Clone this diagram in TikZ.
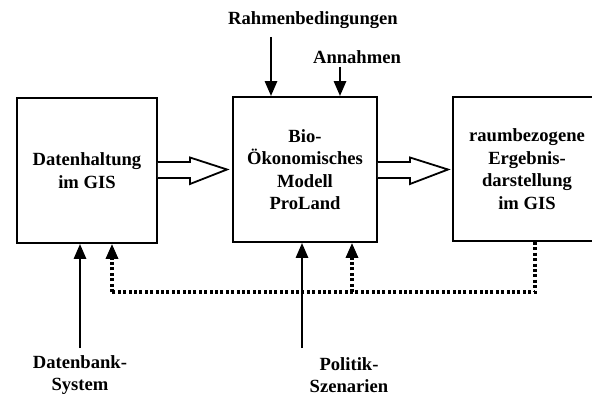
\documentclass[tikz,border=0pt]{standalone}
\usepackage{fontspec}
\setmainfont{Liberation Serif}
\usetikzlibrary{arrows.meta}
\begin{document}
\begin{tikzpicture}[x=1pt,y=-1pt,
  box/.style={draw,line width=1.8pt,inner sep=0pt,align=center,
    font=\bfseries\fontsize{18.6}{22.5}\selectfont},
  lbl/.style={inner sep=0pt,align=center,font=\bfseries\fontsize{18.6}{22.5}\selectfont},
  solidarrow/.style={line width=2.8pt,-{Triangle[length=15pt,width=12pt]}},
  dotline/.style={line width=3.2pt,dash pattern=on 3pt off 2.4pt},
  dotarrow/.style={dotline,-{Triangle[length=15pt,width=12pt]}},
  hollow/.style={draw,line width=1.8pt,fill=white,line join=miter}]
\useasboundingbox (0,0) rectangle (592,396);
\fill[white] (0,0) rectangle (592,396);
% boxes
\node[box,minimum width=140pt,minimum height=145pt] (dat) at (87,170.5) {Datenhaltung\\im GIS};
\node[box,minimum width=144pt,minimum height=145pt] (bio) at (305,169.5) {Bio-\\Ökonomisches\\Modell\\ProLand};
\node[box,minimum width=148pt,minimum height=144pt] (erg) at (527,169) {raumbezogene\\Ergebnis-\\darstellung\\im GIS};
% labels
\node[lbl] (rahmen) at (313,20) {Rahmenbedingungen};
\node[lbl] (annahmen) at (357,57) {Annahmen};
\node[lbl] (datenbank) at (80,375) {Datenbank-\\System};
\node[lbl] (politik) at (349,375) {Politik-\\Szenarien};
% arrow start coordinates
\coordinate (r0) at (271,37);
\coordinate (a0) at (340,67);
\coordinate (d0) at (80,348);
\coordinate (p0) at (302,348);
\coordinate (c1) at (112,292);
\coordinate (c2) at (352,292);
\coordinate (c3) at (535,292);
% top arrows
\draw[solidarrow] (r0) -- (r0 |- bio.north);
\draw[solidarrow] (a0) -- (a0 |- bio.north);
% bottom solid arrows
\draw[solidarrow] (d0) -- (d0 |- dat.south);
\draw[solidarrow] (p0) -- (p0 |- bio.south);
% dotted feedback
\draw[dotline] (c3 |- erg.south) -- (c3) -- (c1);
\draw[dotarrow] (c1) -- (c1 |- dat.south);
\draw[dotarrow] (c2) -- (c2 |- bio.south);
% hollow arrows
\draw[hollow] (dat.east |- 0,162) -- (190,162) -- (190,157.5) -- (227,169.5) -- (190,184) -- (190,178) -- (dat.east |- 0,178);
\draw[hollow] (bio.east |- 0,162) -- (410,162) -- (410,157.5) -- (448,169.5) -- (410,184) -- (410,178) -- (bio.east |- 0,178);
\end{tikzpicture}
\end{document}
